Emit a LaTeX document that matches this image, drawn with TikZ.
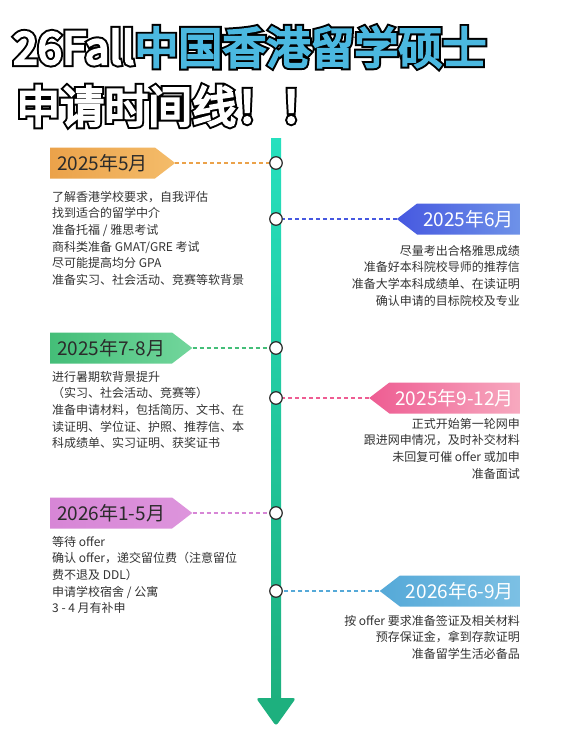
\documentclass[tikz,border=0pt]{standalone}
\usepackage{fontspec}
\setmainfont{Noto Sans CJK SC}
\newfontfamily\titleoutfont{Noto Sans CJK SC}[FakeBold=14]
\newfontfamily\titlefillfont{Noto Sans CJK SC}[FakeBold=5]
\usetikzlibrary{shapes.symbols, shapes.geometric, arrows.meta, calc}
\definecolor{cText}{HTML}{333333}
\definecolor{cDark}{HTML}{2B2B2B}
\definecolor{cTitle}{HTML}{4BB8E0}
\definecolor{cLineTop}{HTML}{26E0BE}
\definecolor{cLineBot}{HTML}{1DB07E}
\definecolor{cOrangeA}{HTML}{EBA24A}
\definecolor{cOrangeB}{HTML}{F4BC6A}
\definecolor{cBlueA}{HTML}{4658E0}
\definecolor{cBlueB}{HTML}{6E92E8}
\definecolor{cGreenA}{HTML}{44BE78}
\definecolor{cGreenB}{HTML}{72D69C}
\definecolor{cPinkA}{HTML}{EE5C92}
\definecolor{cPinkB}{HTML}{F7A9BF}
\definecolor{cVioletA}{HTML}{D786D6}
\definecolor{cVioletB}{HTML}{DD94DC}
\definecolor{cSkyA}{HTML}{55A9D8}
\definecolor{cSkyB}{HTML}{7CC0E4}
\tikzset{
  titleout/.style={font=\titleoutfont\fontsize{44}{44}\selectfont, text=black, inner sep=0pt},
  titlefill/.style={font=\titlefillfont\fontsize{44}{44}\selectfont, inner sep=0pt},
  tagleft/.style 2 args={
    signal, signal to=east, signal pointer angle=75,
    left color=#1, right color=#2, draw=none,
    minimum height=31pt, inner xsep=7pt, inner ysep=0pt,
    font=\fontsize{19}{19}\selectfont, anchor=west,
  },
  tagright/.style 2 args={
    signal, signal to=west, signal pointer angle=75,
    left color=#1, right color=#2, draw=none,
    minimum height=31pt, inner xsep=6pt, inner ysep=0pt,
    font=\fontsize{19}{19}\selectfont, anchor=east, text=white,
  },
  bodyleft/.style={font=\fontsize{12}{16.6}\selectfont, text=cText,
    inner sep=0pt, align=left, anchor=north west},
  bodyright/.style={font=\fontsize{12}{16.6}\selectfont, text=cText,
    inner sep=0pt, align=right, anchor=north east},
  dot/.style={circle, draw=cDark, fill=white, line width=1.2pt,
    minimum size=12.5pt, inner sep=0pt},
  dashline/.style={draw=#1, line width=1.5pt, dash pattern=on 4pt off 3pt},
}

\begin{document}
\begin{tikzpicture}[x=1pt, y=-1pt]
  \fill[white] (0,0) rectangle (561,750);
  \useasboundingbox (0,0) rectangle (561,750);

  % Title
  \node[titleout, anchor=west] (title1out) at (13,47) {26Fall中国香港留学硕士};
  \node[titlefill, anchor=west] (title1) at (13,47)
    {{\color{white}26Fall}\color{cTitle}中国香港留学硕士};
  \node[titleout, anchor=west] (title2out) at (16,106) {申请时间线！！};
  \node[titlefill, anchor=west, text=white] (title2) at (16,106) {申请时间线！！};

  % Timeline
  \coordinate (lineTop) at (276,138);
  \coordinate (lineEnd) at (276,698);
  \shade[top color=cLineTop, bottom color=cLineBot]
    ($(lineTop)+(-5,0)$) rectangle ($(lineEnd)+(5,2)$);
  \fill[cLineBot, rounded corners=3pt]
    ($(lineEnd)+(-20,0)$) -- ($(lineEnd)+(20,0)$) -- ($(lineEnd)+(0,28)$) -- cycle;

  % Tags
  \node[tagleft={cOrangeA}{cOrangeB}, text=cDark] (may25) at (50,163) {2025年5月};
  \node[tagright={cBlueA}{cBlueB}] (jun25) at (520,219) {2025年6月};
  \node[tagleft={cGreenA}{cGreenB}, text=cDark] (jul25) at (50,348) {2025年7-8月};
  \node[tagright={cPinkA}{cPinkB}] (sep25) at (520,398) {2025年9-12月};
  \node[tagleft={cVioletA}{cVioletB}, text=cDark] (jan26) at (50,513) {2026年1-5月};
  \node[tagright={cSkyA}{cSkyB}] (jun26) at (520,591) {2026年6-9月};

  % Dots on the line
  \node[dot] (dot1) at (276,163) {};
  \node[dot] (dot2) at (276,219) {};
  \node[dot] (dot3) at (276,348) {};
  \node[dot] (dot4) at (276,398) {};
  \node[dot] (dot5) at (276,513) {};
  \node[dot] (dot6) at (276,591) {};

  % Dashed connectors
  \draw[dashline=cOrangeA] (may25.east) -- (dot1.west);
  \draw[dashline=cBlueA] (jun25.west) -- (dot2.east);
  \draw[dashline=cGreenA] (jul25.east) -- (dot3.west);
  \draw[dashline=cPinkA] (sep25.west) -- (dot4.east);
  \draw[dashline=cVioletA] (jan26.east) -- (dot5.west);
  \draw[dashline=cSkyA] (jun26.west) -- (dot6.east);

  % Task lists
  \node[bodyleft] (may25text) at (52,191) {了解香港学校要求，自我评估\\
    找到适合的留学中介\\准备托福 / 雅思考试\\商科类准备 GMAT/GRE 考试\\
    尽可能提高均分 GPA\\准备实习、社会活动、竞赛等软背景};
  \node[bodyright] (jun25text) at (520,245) {尽量考出合格雅思成绩\\
    准备好本科院校导师的推荐信\\准备大学本科成绩单、在读证明\\
    确认申请的目标院校及专业};
  \node[bodyleft] (jul25text) at (52,371) {进行暑期软背景提升\\
    （实习、社会活动、竞赛等）\\准备申请材料，包括简历、文书、在\\
    读证明、学位证、护照、推荐信、本\\科成绩单、实习证明、获奖证书};
  \node[bodyright] (sep25text) at (520,418) {正式开始第一轮网申\\
    跟进网申情况，及时补交材料\\未回复可催 offer 或加申\\准备面试};
  \node[bodyleft] (jan26text) at (52,536) {等待 offer\\
    确认 offer，递交留位费（注意留位\\费不退及 DDL）\\
    申请学校宿舍 / 公寓\\3 - 4 月有补申};
  \node[bodyright] (jun26text) at (520,615) {按 offer 要求准备签证及相关材料\\
    预存保证金，拿到存款证明\\准备留学生活必备品};

\end{tikzpicture}
\end{document}
